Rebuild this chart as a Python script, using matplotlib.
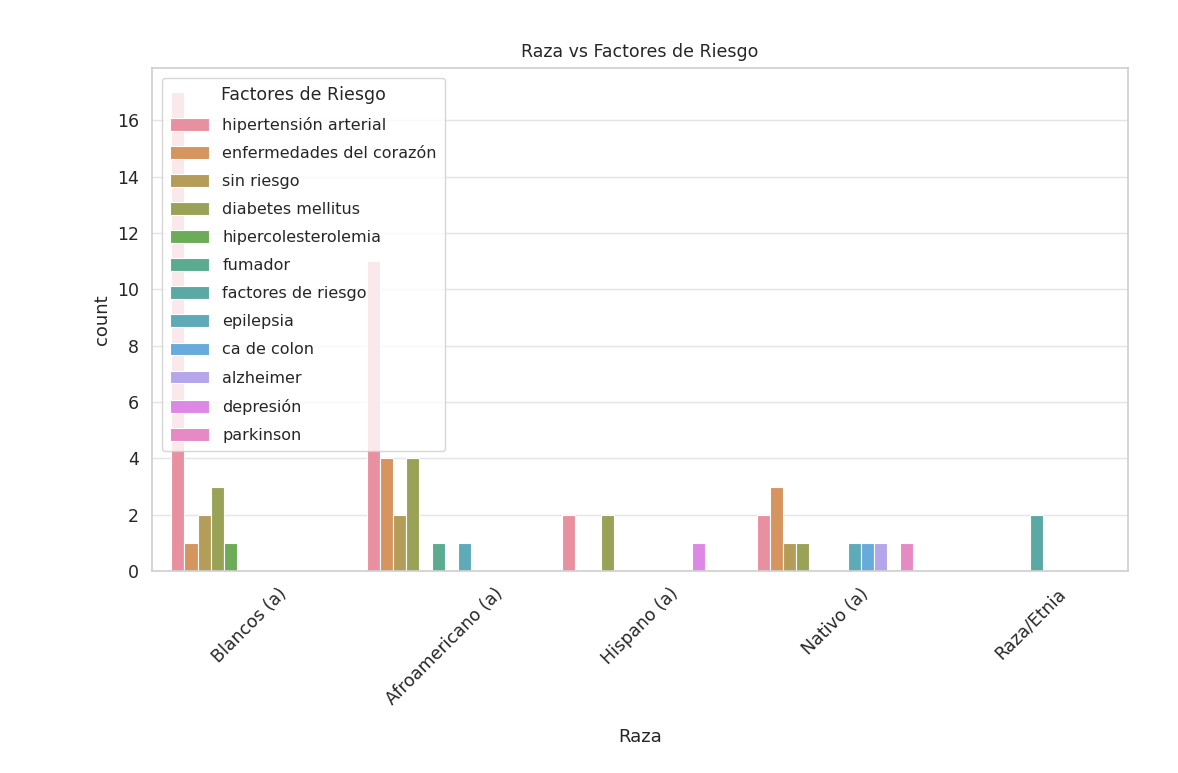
import numpy as np
import matplotlib
matplotlib.use("Agg")
import matplotlib.pyplot as plt
import seaborn as sns

# conteos por raza y factor de riesgo
razas = ["Blancos (a)", "Afroamericano (a)", "Hispano (a)", "Nativo (a)", "Raza/Etnia"]
factores = ["hipertensión arterial", "enfermedades del corazón", "sin riesgo",
            "diabetes mellitus", "hipercolesterolemia", "fumador",
            "factores de riesgo", "epilepsia", "ca de colon", "alzheimer",
            "depresión", "parkinson"]

blancos = [17, 1, 2, 3, 1, 0, 0, 0, 0, 0, 0, 0]
afroamericano = [11, 4, 2, 4, 0, 1, 0, 1, 0, 0, 0, 0]
hispano = [2, 0, 0, 2, 0, 0, 0, 0, 0, 0, 1, 0]
nativo = [2, 3, 1, 1, 0, 0, 0, 1, 1, 1, 0, 1]
raza_etnia = [0, 0, 0, 0, 0, 0, 2, 0, 0, 0, 0, 0]

conteos = np.array([blancos, afroamericano, hispano, nativo, raza_etnia])

sns.set_theme(style="whitegrid")
plt.rcParams['font.family'] = ['DejaVu Sans']

fig = plt.figure(figsize=(11.78, 7.73), dpi=100)
ax = fig.add_axes([0.129, 0.261, 0.8285, 0.651])

# paleta husl algo desaturada y aclarada
colores = np.array(sns.color_palette("husl", len(factores), desat=0.75))
colores = colores * 0.88 + 0.12

n = len(factores)
ancho = 0.8 / n
x = np.arange(len(razas))

for j, factor in enumerate(factores):
    valores = conteos[:, j]
    mask = valores > 0
    pos = x - 0.4 + ancho / 2 + j * ancho
    ax.bar(pos[mask], valores[mask], width=ancho, color=colores[j],
           label=factor, linewidth=0.8, edgecolor="white")

ax.grid(False, axis="x")
ax.grid(True, axis="y", color="#e4e4e4")
for s in ax.spines.values():
    s.set_color("#d0d0d0")

ax.set_xticks(x)
ax.set_xticklabels(razas, rotation=45, fontsize=12.5)
ax.tick_params(axis="y", labelsize=12.5)
ax.set_xlim(-0.5, len(razas) - 0.5)
ax.set_ylim(0, 17.85)
ax.set_xlabel("Raza", fontsize=13, labelpad=14)
ax.set_ylabel("count", fontsize=13)
ax.set_title("Raza vs Factores de Riesgo", fontsize=12.5, pad=8)

ax.legend(title="Factores de Riesgo", loc="upper left", fontsize=11.5,
          title_fontsize=12.5, labelspacing=0.82, handlelength=2.5,
          handleheight=0.85, borderaxespad=0.6, borderpad=0.5)

fig.savefig("out.png", dpi=100, facecolor="white")
